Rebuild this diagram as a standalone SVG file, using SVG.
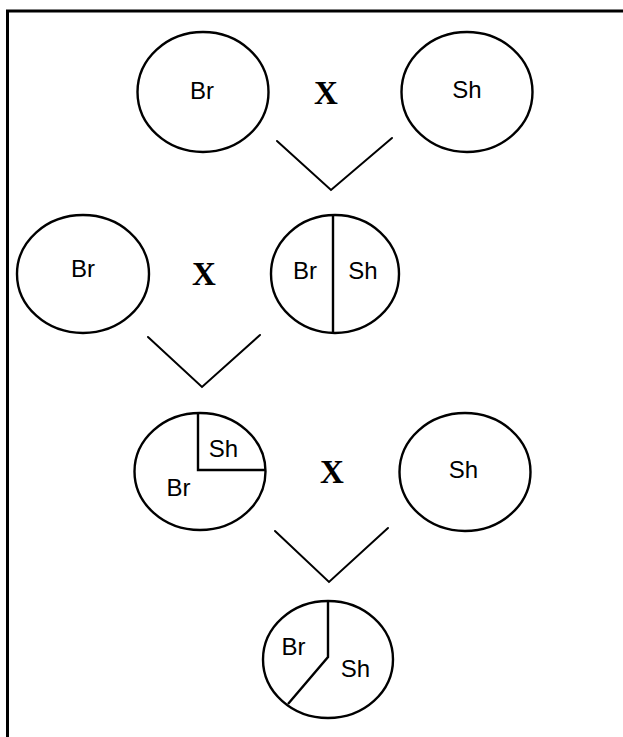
<svg xmlns="http://www.w3.org/2000/svg" width="623" height="737" viewBox="0 0 623 737">
<style>
.c{fill:none;stroke:#000;stroke-width:2.4}
.l{fill:none;stroke:#000;stroke-width:2;stroke-linecap:round;stroke-linejoin:miter}
.d{fill:none;stroke:#000;stroke-width:2.4}
.t{font-family:"Liberation Sans",Arial,sans-serif;font-size:24px;fill:#000;text-anchor:middle}
.x{font-family:"Liberation Serif","Times New Roman",serif;font-size:33px;font-weight:bold;fill:#000;text-anchor:middle}
</style>
<rect width="623" height="737" fill="#fff"/>
<rect x="7.5" y="11" width="700" height="800" fill="none" stroke="#000" stroke-width="3"/>
<g id="p1-br"><ellipse class="c" cx="203" cy="92" rx="65.5" ry="60"/><text class="t" x="202" y="99">Br</text></g>
<g id="x1"><text class="x" x="326" y="104">X</text></g>
<g id="p1-sh"><ellipse class="c" cx="467" cy="92" rx="65.5" ry="60"/><text class="t" x="467" y="98">Sh</text></g>
<g id="p2-br"><ellipse class="c" cx="83" cy="274" rx="66" ry="59"/><text class="t" x="83" y="277">Br</text></g>
<g id="x2"><text class="x" x="204" y="285">X</text></g>
<g id="f1"><ellipse class="c" cx="335" cy="274" rx="64" ry="59"/><line class="d" x1="333" y1="215" x2="333" y2="333"/><text class="t" x="305" y="279">Br</text><text class="t" x="363" y="279">Sh</text></g>
<g id="f2"><ellipse class="c" cx="200" cy="471.5" rx="65.5" ry="58.5"/><polyline class="d" points="198,413 198,470 265,470"/><text class="t" x="223.5" y="457">Sh</text><text class="t" x="178.5" y="496">Br</text></g>
<g id="x3"><text class="x" x="332" y="483">X</text></g>
<g id="p3-sh"><ellipse class="c" cx="465" cy="472" rx="65.5" ry="59"/><text class="t" x="463.5" y="478">Sh</text></g>
<g id="f3"><ellipse class="c" cx="328" cy="659.5" rx="65" ry="58.5"/><polyline class="d" points="328,601 328,657 288,704"/><text class="t" x="293.5" y="655">Br</text><text class="t" x="355.5" y="677">Sh</text></g>
<g id="connectors">
<polyline class="l" points="277,141 331,190 392,138"/>
<polyline class="l" points="148,337 202,387 260,335"/>
<polyline class="l" points="275,531 329,582 388,528"/>
</g>
</svg>
